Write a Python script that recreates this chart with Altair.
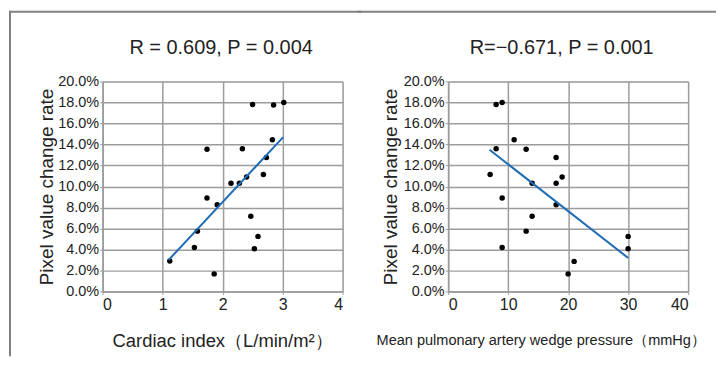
import altair as alt
import pandas as pd

# ---- data ----
ci_x = [1.12, 1.53, 1.58, 1.74, 1.74, 1.86, 1.91, 2.14, 2.28, 2.33, 2.40, 2.47, 2.50, 2.53, 2.59, 2.68, 2.73, 2.83, 2.85, 3.02]
ci_y = [2.9, 4.2, 5.75, 13.55, 8.9, 1.68, 8.27, 10.3, 10.3, 13.6, 10.9, 7.17, 17.8, 4.07, 5.25, 11.15, 12.76, 14.44, 17.76, 18.0]
ci_fit_x = [1.10, 3.01]
ci_fit_y = [3.0, 14.7]

pw_x = [7, 8, 8, 9, 9, 9, 11, 13, 13, 14, 14, 18, 18, 18, 19, 20, 21, 30, 30]
pw_y = [11.15, 17.8, 13.6, 18.0, 8.9, 4.2, 14.44, 13.55, 5.75, 10.3, 7.17, 12.76, 10.3, 8.27, 10.9, 1.68, 2.87, 5.25, 4.07]
pw_fit_x = [6.9, 30.0]
pw_fit_y = [13.5, 3.2]

y_ticks = [0.0, 2.0, 4.0, 6.0, 8.0, 10.0, 12.0, 14.0, 16.0, 18.0, 20.0]

y_title = "Pixel value change rate"
left_title = "R = 0.609, P = 0.004"
right_title = "R=\u22120.671, P = 0.001"
left_xtitle = "Cardiac index（L/min/m²）"
right_xtitle = "Mean pulmonary artery wedge pressure（mmHg）"

W, H = 241, 211
GRID = "#9c9c9c"
FONT = "Liberation Sans"


def panel(xs, ys, fx, fy, xmax, xstep, xtitle, title, title_x, xtitle_x, xtitle_size, ytitle_x, frame):
    pts = pd.DataFrame({"x": xs, "y": [v / 100 for v in ys]})
    fit = pd.DataFrame({"x": fx, "y": [v / 100 for v in fy]})
    xs_ = alt.Scale(domain=[0, xmax], nice=False)
    ys_ = alt.Scale(domain=[0, 0.2], nice=False)
    xax = alt.Axis(values=list(range(0, xmax + 1, xstep)), format="d", title=xtitle, grid=True,
                   gridColor=GRID, gridWidth=1.5, domainColor=GRID, domainWidth=1.5,
                   tickColor=GRID, tickSize=3, labelFontSize=16, labelFont=FONT,
                   labelColor="#222", labelPadding=2, labelOverlap=False,
                   titleFont=FONT, titleFontSize=xtitle_size, titleFontWeight="normal",
                   titleColor="#222", titleX=xtitle_x, titleY=49, titleAlign="center",
                   titleBaseline="middle")
    yax = alt.Axis(values=[v / 100 for v in y_ticks], format=".1%", title=y_title,
                   grid=True, gridColor=GRID, gridWidth=1.5, domainColor=GRID, domainWidth=1.5,
                   tickColor=GRID, tickSize=3, labelFontSize=14.5, labelFont=FONT,
                   labelColor="#222", labelPadding=1, labelOverlap=False, labelSeparation=0,
                   titleFont=FONT, titleFontSize=19, titleFontWeight="normal", titleColor="#222",
                   titleX=ytitle_x, titleY=H / 2, titleAlign="center", titleBaseline="middle",
                   titleAngle=-90)
    base_pts = alt.Chart(pts).mark_circle(size=30, color="black", opacity=1).encode(
        x=alt.X("x:Q", scale=xs_, axis=xax),
        y=alt.Y("y:Q", scale=ys_, axis=yax),
    )
    line = alt.Chart(fit).mark_line(color="#1f6db5", strokeWidth=2).encode(
        x=alt.X("x:Q", scale=xs_, axis=xax), y=alt.Y("y:Q", scale=ys_, axis=yax)
    )
    ttl = alt.Chart(pd.DataFrame({"t": [title]})).mark_text(
        font=FONT, fontSize=20, color="#222", align="center", baseline="alphabetic"
    ).encode(text="t:N", x=alt.value(title_x), y=alt.value(-28))
    layers = [base_pts, line, ttl]
    for (x1, x2, y1, y2) in frame:
        layers.append(
            alt.Chart(pd.DataFrame({"k": [0]})).mark_rule(
                color="#808080", strokeWidth=2, strokeCap="square"
            ).encode(x=alt.value(x1), x2=alt.value(x2), y=alt.value(y1), y2=alt.value(y2))
        )
    return alt.layer(*layers).properties(width=W, height=H)


left = panel(ci_x, ci_y, ci_fit_x, ci_fit_y, 4, 1, left_xtitle, left_title, 119, 120, 18.5, -56,
             frame=[(-93, -93, -70, 275), (-93, 259, -70, -70)])
right = panel(pw_x, pw_y, pw_fit_x, pw_fit_y, 40, 10, right_xtitle, right_title, 114, 93,
              14.6, -57.7, frame=[(-90, 268, -70, -70)])

chart = alt.hconcat(left, right, spacing=-6).properties(
    padding={"left": 0, "top": 1, "right": 0, "bottom": 0}
).configure_view(stroke=GRID, strokeWidth=1.5).configure_axis(
    labelOverlap=False
).configure(background="white")

chart.save("out.html", embed_options={"renderer": "svg", "actions": False})
